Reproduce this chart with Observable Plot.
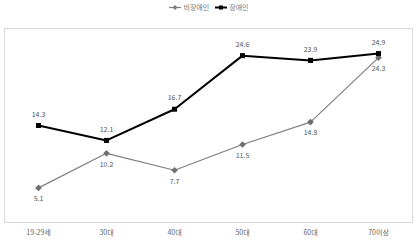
<!DOCTYPE html>
<html><head><meta charset="utf-8">
<script src="https://cdn.jsdelivr.net/npm/d3@7"></script>
<script src="https://cdn.jsdelivr.net/npm/@observablehq/plot@0.6"></script>
<style>
body{margin:0;background:#fff;font-family:"Noto Sans CJK KR","Noto Sans",sans-serif;}
#wrap{position:relative;width:420px;height:243px;}
#legend{position:absolute;top:2px;left:0;width:420px;text-align:center;font-size:7px;color:#777;}
#legend span{display:inline-flex;align-items:center;margin:0 2px;}
</style></head><body>
<div id="wrap"><div id="legend"></div><div id="chart"></div></div>
<script>
const categories = ["19-29세","30대","40대","50대","60대","70이상"];
const seriesNames = ["비장애인","장애인"];
const nonDisabled = [5.1,10.2,7.7,11.5,14.8,24.3];
const disabled = [14.3,12.1,16.7,24.6,23.9,24.9];

const data = [];
categories.forEach((c,i)=>{
  data.push({cat:c, series:"비장애인", value:nonDisabled[i]});
  data.push({cat:c, series:"장애인", value:disabled[i]});
});
const nd = data.filter(d=>d.series==="비장애인");
const dd = data.filter(d=>d.series==="장애인");

const chart = Plot.plot({
  width:420, height:243,
  marginLeft:4, marginRight:8, marginTop:28, marginBottom:21,
  style:{fontFamily:'"Noto Sans CJK KR","Noto Sans",sans-serif', fontSize:"7px", color:"#666"},
  x:{type:"point", domain:categories, padding:0.5, label:null},
  y:{domain:[0,28.6], axis:null},
  marks:[
    Plot.frame({stroke:"#d9d9d9", strokeWidth:1}),
    Plot.axisX({tickSize:0, tickPadding:8, fill:"#666", fontSize:7}),
    Plot.line(nd,{x:"cat", y:"value", stroke:"#7f7f7f", strokeWidth:1.2}),
    Plot.dot(nd,{x:"cat", y:"value", symbol:"diamond2", r:3, fill:"#6f6f6f", stroke:"none"}),
    Plot.line(dd,{x:"cat", y:"value", stroke:"#000", strokeWidth:2}),
    Plot.dot(dd,{x:"cat", y:"value", symbol:"square2", r:3.2, fill:"#000", stroke:"none"}),
    Plot.text(nd,{x:"cat", y:"value", text:d=>d.value.toFixed(1), dy:11, fill:"#555", fontSize:7}),
    Plot.text(dd,{x:"cat", y:"value", text:d=>d.value.toFixed(1), dy:-11, fill:"#555", fontSize:7})
  ]
});
document.getElementById("chart").appendChild(chart);

const leg = document.getElementById("legend");
const styles = [{c:"#7f7f7f",w:1.2,sym:"diamond"},{c:"#000",w:2,sym:"square"}];
seriesNames.forEach((n,i)=>{
  const s=styles[i];
  const span=document.createElement("span");
  const mk = s.sym==="square" ? `<rect x="4" y="2.5" width="4" height="4" fill="${s.c}"/>` : `<path d="M6,2 L8.5,4.5 L6,7 L3.5,4.5Z" fill="${s.c}"/>`;
  span.innerHTML=`<svg width="12" height="9"><line x1="0" x2="12" y1="4.5" y2="4.5" stroke="${s.c}" stroke-width="${s.w}"/>${mk}</svg><span>${n}</span>`;
  leg.appendChild(span);
});
</script>
</body></html>
